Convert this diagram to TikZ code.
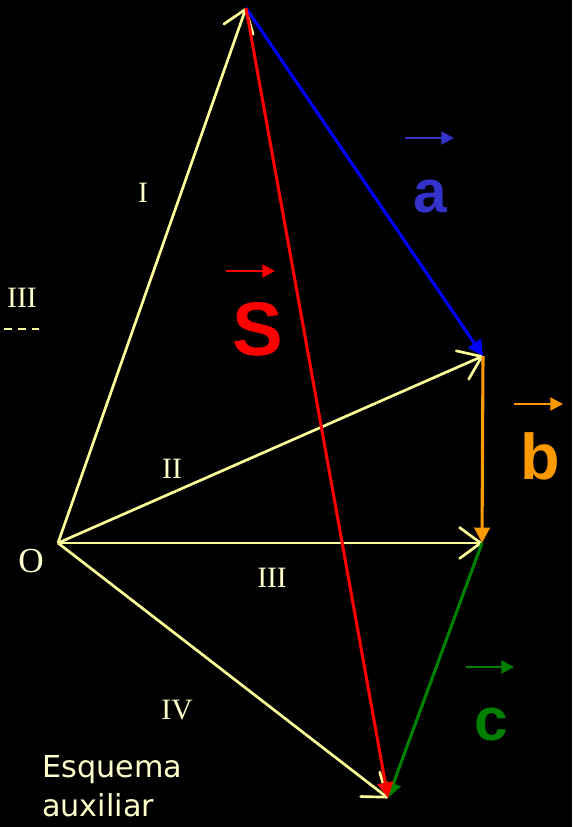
\documentclass[tikz,border=0pt]{standalone}
\usepackage{fontspec}
\setmainfont{Liberation Serif}
\newfontfamily\labelfont{Liberation Sans}
\newfontfamily\notefont{DejaVu Sans}
\usetikzlibrary{arrows.meta,positioning,calc}
\definecolor{lineyellow}{RGB}{255,255,153}
\definecolor{textyellow}{RGB}{255,255,204}
\definecolor{vecblue}{RGB}{0,0,255}
\definecolor{labblue}{RGB}{51,51,204}
\definecolor{vecorange}{RGB}{255,153,0}
\definecolor{vecgreen}{RGB}{0,128,0}
\definecolor{vecred}{RGB}{255,0,0}

\begin{document}
\begin{tikzpicture}[
    x=0.025cm, y=-0.025cm,
    path/.style={draw=lineyellow, line width=1.9pt,
        -{Straight Barb[length=15pt, width=22pt, round]}},
    vec/.style={line width=2.2pt, -{Triangle[length=11pt, width=11pt]}},
    minivec/.style={line width=2pt, -{Triangle[length=9pt, width=9pt]}},
    roman/.style={text=textyellow, font=\fontsize{21}{24}\selectfont},
    letter/.style={anchor=base, font=\labelfont\bfseries\fontsize{46}{52}\selectfont},
]

% background
\fill[black] (0,0) rectangle (572,827);

% points
\coordinate (O) at (58,543);
\coordinate (A) at (246,8);
\coordinate (B) at (483,356);
\coordinate (C) at (482,543);
\coordinate (D) at (388,798);

% yellow paths from O
\draw[path] (O) -- (A);
\draw[path] (O) -- (B);
\draw[path] (O) -- (C);
\draw[path] (O) -- (D);

% vectors
\draw[vec, vecblue] (A) -- (B);
\draw[vec, vecorange] (B) -- (C);
\draw[vec, vecgreen] (C) -- (D);
\draw[vec, vecred] (A) -- (D);

% path labels
\node[roman] (n1) at (143,193) {I};
\node[roman] (n2) at (172,469) {II};
\node[roman] (n3) at (272,578) {III};
\node[roman] (n4) at (177,710) {IV};
\node[roman, font=\fontsize{25}{28}\selectfont] (o) at (31,561) {O};

% legend
\node[roman] (leg) at (22,298) {III};
\coordinate (l1) at (4,329);
\coordinate (l2) at (39,329);
\draw[lineyellow, line width=1.6pt, dash pattern=on 6pt off 4pt] (l1) -- (l2);

% vector names
\node[letter, text=labblue, font=\labelfont\bfseries\fontsize{43}{48}\selectfont] (la) at (430,212) {a};
\coordinate (a1) at (405,138);
\coordinate (a2) at (454,138);
\draw[minivec, labblue] (a1) -- (a2);

\node[letter, text=vecred, font=\labelfont\bfseries\fontsize{54}{60}\selectfont] (ls) at (258,355) {S};
\coordinate (s1) at (226,271);
\coordinate (s2) at (275,271);
\draw[minivec, vecred] (s1) -- (s2);

\node[letter, text=vecorange] (lb) at (540,479) {b};
\coordinate (b1) at (514,404);
\coordinate (b2) at (563,404);
\draw[minivec, vecorange] (b1) -- (b2);

\node[letter, text=vecgreen, font=\labelfont\bfseries\fontsize{43}{48}\selectfont] (lc) at (491,740) {c};
\coordinate (c1) at (466,667);
\coordinate (c2) at (514,667);
\draw[minivec, vecgreen] (c1) -- (c2);

% note
\node[text=textyellow, font=\notefont\fontsize{21.5}{27.5}\selectfont, align=left,
    anchor=base west, inner sep=0pt] (note) at (42,816) {Esquema\\auxiliar};

\end{tikzpicture}
\end{document}
